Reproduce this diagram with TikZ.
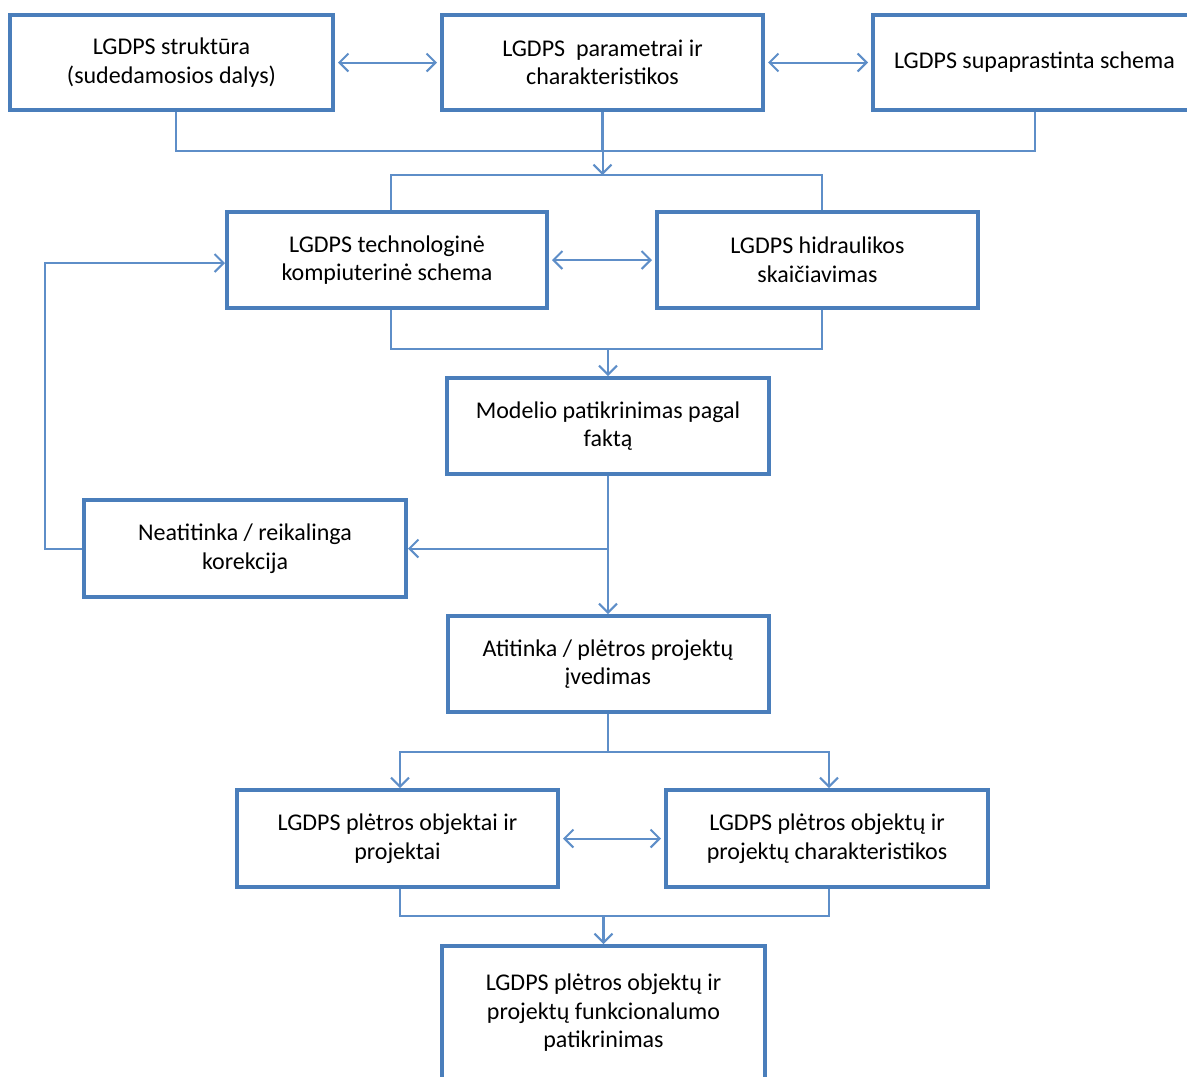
\documentclass[tikz,border=0pt]{standalone}
\usepackage{fontspec}
\setmainfont{Carlito}
\usetikzlibrary{arrows.meta}
\definecolor{boxblue}{RGB}{74,126,187}
\definecolor{lineblue}{RGB}{94,142,200}
\begin{document}
\begin{tikzpicture}[x=1pt,y=-1pt,
  box/.style={draw=boxblue, line width=4pt, fill=white, rectangle, inner sep=0pt,
    outer sep=2pt, align=center, font=\fontsize{24}{28.5}\selectfont},
  conn/.style={draw=lineblue, line width=2pt},
  tip/.style={-{Straight Barb[length=9pt,width=18pt,line width=2pt]}},
  both/.style={{Straight Barb[length=9pt,width=18pt,line width=2pt]}-{Straight Barb[length=9pt,width=18pt,line width=2pt]},
    shorten <=3pt, shorten >=3pt}]
\useasboundingbox (0,0) rectangle (1187,1077);
\clip (0,0) rectangle (1187,1077);

% boxes
\node[box, minimum width=323pt, minimum height=95pt] (b1) at (171.5,62.5)
  {LGDPS struktūra\\(sudedamosios dalys)};
\node[box, minimum width=321pt, minimum height=95pt] (b2) at (602.5,62.5)
  {LGDPS\ \ parametrai ir\\charakteristikos};
\node[box, minimum width=323pt, minimum height=95pt] (b3) at (1034.5,62.5)
  {LGDPS supaprastinta schema};
\node[box, minimum width=320pt, minimum height=96pt] (b4) at (387,260)
  {LGDPS technologinė\\kompiuterinė schema};
\node[box, minimum width=321pt, minimum height=96pt] (b5) at (817.5,260)
  {LGDPS hidraulikos\\skaičiavimas};
\node[box, minimum width=322pt, minimum height=96pt] (b7) at (608,426)
  {Modelio patikrinimas pagal\\faktą};
\node[box, minimum width=322pt, minimum height=97pt] (b6) at (245,548.5)
  {Neatitinka / reikalinga\\korekcija};
\node[box, minimum width=321pt, minimum height=96pt] (b8) at (608,664)
  {Atitinka / plėtros projektų\\įvedimas};
\node[box, minimum width=321pt, minimum height=97pt] (b9) at (397.5,838.5)
  {LGDPS plėtros objektai ir\\projektai};
\node[box, minimum width=322pt, minimum height=97pt] (b10) at (827,838.5)
  {LGDPS plėtros objektų ir\\projektų charakteristikos};
\node[box, minimum width=323pt, minimum height=134pt] (b11) at (603.5,1013)
  {LGDPS plėtros objektų ir\\projektų funkcionalumo\\patikrinimas};

% junction points of the connector buses
\coordinate (busA) at (602.5,151);
\coordinate (busB) at (602.5,175);
\coordinate (busC) at (608,349);
\coordinate (split) at (608,548.5);
\coordinate (busD) at (608,752);
\coordinate (busE) at (603.5,916);
\coordinate (loop) at (45,548.5);

% top row
\draw[conn, both] (b1.east) -- (b2.west);
\draw[conn, both] (b2.east) -- (b3.west);
\draw[conn] ([xshift=4pt]b1.south) |- (busA);
\draw[conn] (b3.south) |- (busA);
\draw[conn, line width=3pt] (b2.south) -- (busA);
\draw[conn, tip] (busA) -- (busB);
\draw[conn] ([xshift=4pt]b4.north) |- (busB) -| ([xshift=4pt]b5.north);

% second row
\draw[conn, both] (b4.east) -- (b5.west);
\draw[conn] ([xshift=4pt]b4.south) |- (busC) -| ([xshift=4pt]b5.south);
\draw[conn, tip] (busC) -- (b7.north);

% check and feedback loop
\draw[conn] (b7.south) -- (split);
\draw[conn, tip] (split) -- (b6.east);
\draw[conn, tip] (split) -- (b8.north);
\draw[conn, tip] (b6.west) -- (loop) |- ([yshift=-3pt]b4.west);

% development branch
\draw[conn] (b8.south) -- (busD);
\draw[conn, tip] (busD) -| ([xshift=2.5pt]b9.north);
\draw[conn, tip] (busD) -| ([xshift=2pt]b10.north);
\draw[conn, both] (b9.east) -- (b10.west);
\draw[conn] ([xshift=2.5pt]b9.south) |- (busE) -| ([xshift=2pt]b10.south);
\draw[conn, line width=3pt, tip] (busE) -- (b11.north);
\end{tikzpicture}
\end{document}
